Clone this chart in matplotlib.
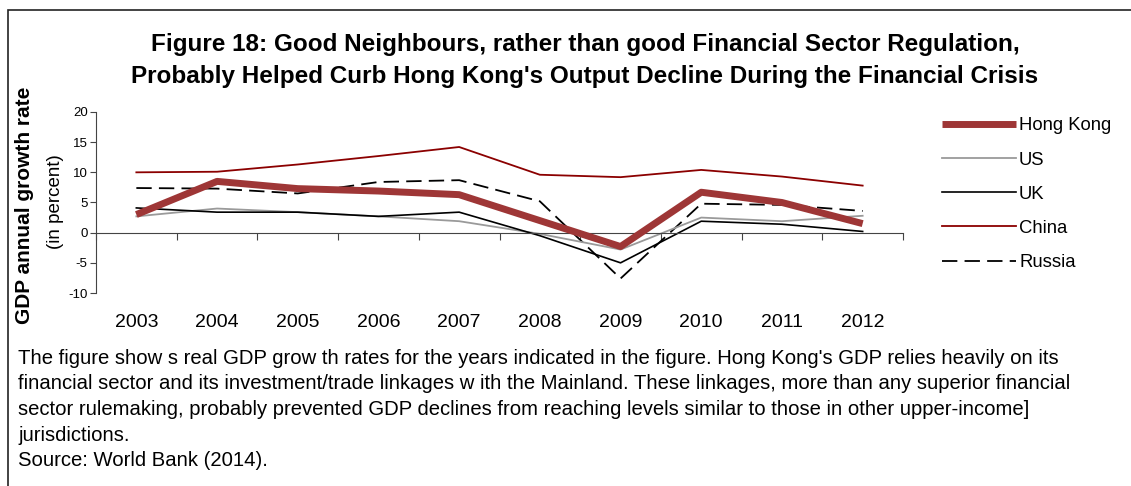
import numpy as np
import matplotlib
matplotlib.use("Agg")
import matplotlib.pyplot as plt
from matplotlib.lines import Line2D

plt.rcParams['font.family'] = ['Liberation Sans', 'DejaVu Sans']
plt.rcParams['axes.unicode_minus'] = False

years = ['2003', '2004', '2005', '2006', '2007', '2008', '2009', '2010', '2011', '2012']
hong_kong = [3.0, 8.5, 7.3, 6.9, 6.3, 2.0, -2.3, 6.7, 5.0, 1.5]
us = [2.7, 4.0, 3.4, 2.7, 1.9, -0.2, -2.8, 2.5, 1.9, 2.8]
uk = [4.1, 3.4, 3.4, 2.7, 3.4, -0.5, -5.0, 1.9, 1.4, 0.2]
china = [10.0, 10.1, 11.3, 12.7, 14.2, 9.6, 9.2, 10.4, 9.3, 7.8]
russia = [7.4, 7.3, 6.5, 8.4, 8.7, 5.2, -7.6, 4.8, 4.6, 3.6]

series = [
    ('Hong Kong', hong_kong, dict(color='#9e3636', lw=5.0, solid_capstyle='butt')),
    ('US', us, dict(color='#9a9a9a', lw=1.3)),
    ('UK', uk, dict(color='black', lw=1.2)),
    ('China', china, dict(color='#8b0000', lw=1.3)),
    ('Russia', russia, dict(color='black', lw=1.3, ls=(0, (8.5, 4)))),
]

fig = plt.figure(figsize=(11.31, 4.86), dpi=100)
ax = fig.add_axes([96 / 1131, 1 - 293 / 486, (903 - 96) / 1131, (293 - 112) / 486])

x = np.arange(len(years))
handles = []
# draw thin lines first, Hong Kong on top
order = [4, 3, 1, 2, 0]
for i in order:
    name, vals, st = series[i]
    ax.plot(x, vals, zorder=3 if i == 0 else 2, **st)
for name, vals, st in series:
    handles.append(Line2D([0], [0], label=name, **st))

ax.set_xlim(-0.5, len(years) - 0.5)
ax.set_ylim(-10, 20)
ax.set_yticks(range(-10, 21, 5))
ax.tick_params(axis='y', labelsize=9.5, length=4, width=0.8, pad=2, color='#444444')
ax.spines['bottom'].set_position(('data', 0))
for s in ['top', 'right']:
    ax.spines[s].set_visible(False)
for s in ['left', 'bottom']:
    ax.spines[s].set_color('#444444')
    ax.spines[s].set_linewidth(0.8)
ax.set_xticks(np.arange(-0.5, len(years), 1.0))
ax.set_xticklabels([])
ax.tick_params(axis='x', length=5, width=0.8, color='#444444')
for i, yr in enumerate(years):
    ax.text(i, -0.165, yr, transform=ax.get_xaxis_transform(), ha='center', va='center',
            fontsize=14)

fig.text(25 / 1131, 1 - 205 / 486, 'GDP annual growth rate', rotation=90, ha='center',
         va='center', fontsize=15, fontweight='bold')
fig.text(55 / 1131, 1 - 202 / 486, '(in percent)', rotation=90, ha='center',
         va='center', fontsize=13.5)

fig.text(585 / 1131, 1 - 45 / 486, 'Figure 18: Good Neighbours, rather than good Financial Sector Regulation,',
         ha='center', va='center', fontsize=17.5, fontweight='bold')
fig.text(585 / 1131, 1 - 76 / 486, "Probably Helped Curb Hong Kong's Output Decline During the Financial Crisis",
         ha='center', va='center', fontsize=17.5, fontweight='bold')

fig.legend(handles=handles, loc='upper left', bbox_to_anchor=(935 / 1131, 1 - 110 / 486),
           frameon=False, fontsize=13.3, handlelength=4.0, handletextpad=0.15,
           labelspacing=0.93, borderaxespad=0)

caption = [
    "The figure show s real GDP grow th rates for the years indicated in the figure. Hong Kong's GDP relies heavily on its",
    "financial sector and its investment/trade linkages w ith the Mainland. These linkages, more than any superior financial",
    "sector rulemaking, probably prevented GDP declines from reaching levels similar to those in other upper-income]",
    "jurisdictions.",
    "Source: World Bank (2014).",
]
for k, line in enumerate(caption):
    fig.text(18 / 1131, 1 - (358 + 25.7 * k) / 486, line, ha='left', va='center', fontsize=14.6)

# frame around the figure (runs off right and bottom)
frame = plt.Rectangle((8 / 1131, -0.1), 1.2, 1 - 10 / 486 + 0.1, transform=fig.transFigure,
                      fill=False, ec='#222222', lw=1.2)
fig.add_artist(frame)

fig.savefig('out.png', dpi=100)
